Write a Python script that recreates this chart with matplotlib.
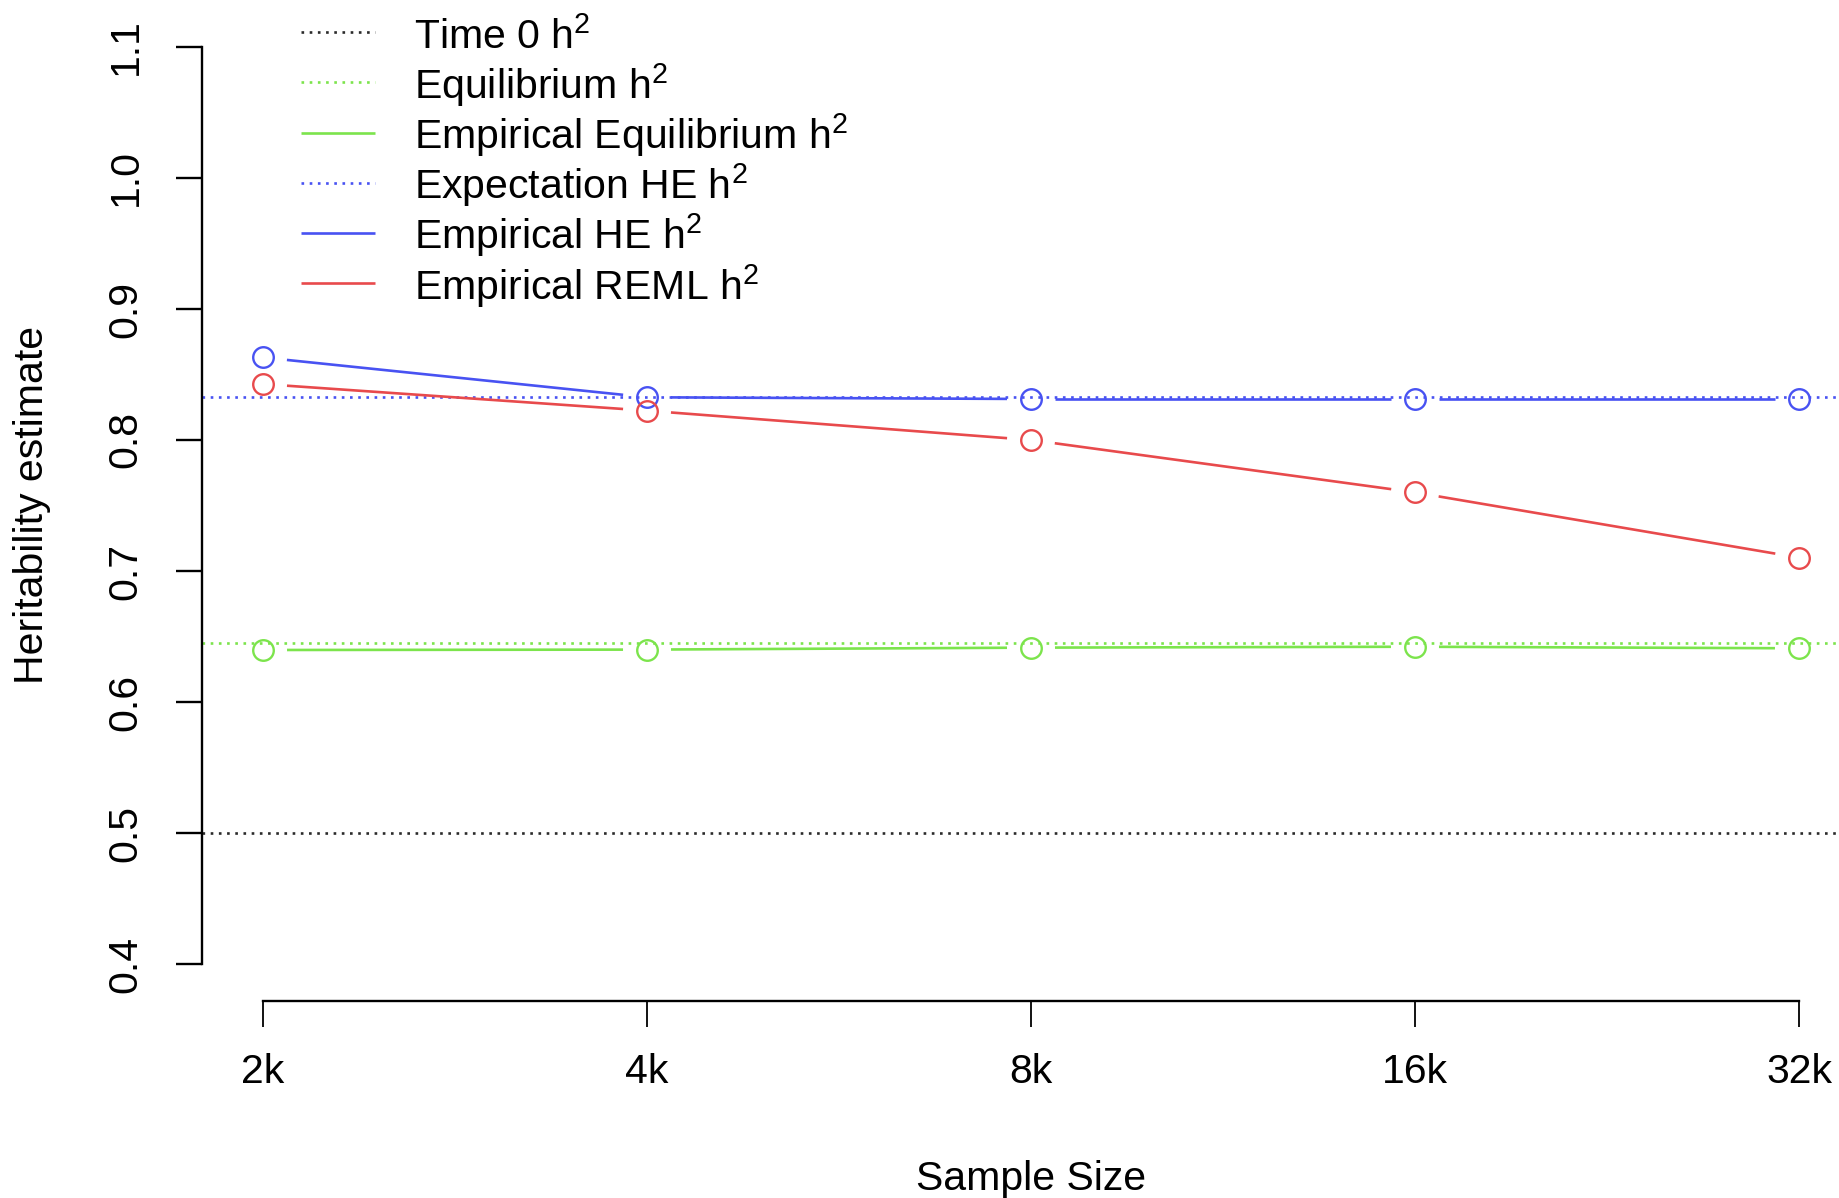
import numpy as np
import matplotlib
matplotlib.use("Agg")
import matplotlib.pyplot as plt
from matplotlib.lines import Line2D
from matplotlib.transforms import Affine2D

# ---- data -------------------------------------------------------------
sample_labels = ["2k", "4k", "8k", "16k", "32k"]
sample_sizes = [2000, 4000, 8000, 16000, 32000]

empirical_he = [0.863, 0.8326, 0.8313, 0.8313, 0.8313]
empirical_reml = [0.8427, 0.8224, 0.800, 0.760, 0.7102]
empirical_equilibrium = [0.6397, 0.640, 0.6415, 0.6422, 0.641]

time0_h2 = 0.5
equilibrium_h2 = 0.6453
expectation_he_h2 = 0.833

y_ticks = [0.4, 0.5, 0.6, 0.7, 0.8, 0.9, 1.0, 1.1]
y_tick_labels = ["0.4", "0.5", "0.6", "0.7", "0.8", "0.9", "1.0", "1.1"]

legend_labels = [r"Time 0 h$^{2}$", r"Equilibrium h$^{2}$",
                 r"Empirical Equilibrium h$^{2}$", r"Expectation HE h$^{2}$",
                 r"Empirical HE h$^{2}$", r"Empirical REML h$^{2}$"]

# ---- style ------------------------------------------------------------
BLACK = "#2a2a2a"
GREEN = "#7ce44c"
BLUE = "#4852f2"
RED = "#e84a4c"
legend_colors = [BLACK, GREEN, GREEN, BLUE, BLUE, RED]
legend_dotted = [True, True, False, True, False, False]

plt.rcParams["font.family"] = ["Liberation Sans", "DejaVu Sans"]
plt.rcParams["mathtext.fontset"] = "custom"
plt.rcParams["mathtext.rm"] = "Liberation Sans"
plt.rcParams["mathtext.it"] = "Liberation Sans:italic"
plt.rcParams["mathtext.bf"] = "Liberation Sans:bold"
plt.rcParams["lines.scale_dashes"] = False

FS = 29.5
LW = 1.9
DOTTED = (0, (1.9, 4.0))

W, H, DPI = 1839, 1198, 100
fig = plt.figure(figsize=(W / DPI, H / DPI), dpi=DPI)
px = Affine2D().scale(1 / W, -1 / H).translate(0, 1) + fig.transFigure

# plot region, R-style 4% padding around the data range
x = np.log2(np.array(sample_sizes) / 1000.0)
xlim = (x.min() - 0.04 * (x.max() - x.min()), x.max() + 0.04 * (x.max() - x.min()))
ylim = (0.4 - 0.028, 1.1 + 0.028)
left, right, top, bottom = 201.6, 1860.4, 10.3, 1000.7
ax = fig.add_axes([left / W, 1 - bottom / H, (right - left) / W, (bottom - top) / H])
ax.set_xlim(*xlim)
ax.set_ylim(*ylim)
ax.patch.set_visible(False)

# reference levels
ax.axhline(time0_h2, color=BLACK, lw=LW, ls=DOTTED)
ax.axhline(equilibrium_h2, color=GREEN, lw=LW, ls=DOTTED)
ax.axhline(expectation_he_h2, color=BLUE, lw=LW, ls=DOTTED)


def gapped_segments(xs, ys, gap_px=24.0):
    """Segments joining consecutive points, trimmed around each point."""
    pts = ax.transData.transform(np.column_stack([xs, ys]))
    inv = ax.transData.inverted()
    segs = []
    for p0, p1 in zip(pts[:-1], pts[1:]):
        d = p1 - p0
        L = np.hypot(*d)
        if L <= 2 * gap_px:
            continue
        u = d / L
        segs.append(inv.transform(np.array([p0 + u * gap_px, p1 - u * gap_px])))
    return segs


for ys, col in [(empirical_equilibrium, GREEN), (empirical_he, BLUE), (empirical_reml, RED)]:
    for seg in gapped_segments(x, ys):
        ax.plot(seg[:, 0], seg[:, 1], color=col, lw=LW, solid_capstyle="butt")
    ax.plot(x, ys, ls="none", marker="o", ms=14.8, mfc="none", mec=col, mew=1.7)

# axes
for s in ("top", "right"):
    ax.spines[s].set_visible(False)
for s in ("left", "bottom"):
    ax.spines[s].set_linewidth(1.7)
    ax.spines[s].set_color("black")
ax.spines["left"].set_bounds(0.4, 1.1)
ax.spines["bottom"].set_bounds(x.min(), x.max())

ax.set_xticks(x, sample_labels)
ax.set_yticks(y_ticks, y_tick_labels)
ax.tick_params(axis="x", length=18.7, width=1.3, pad=19, labelsize=FS, direction="out")
ax.tick_params(axis="y", length=18.7, width=1.7, pad=36, labelsize=FS, direction="out",
               labelrotation=90)
for lbl in ax.get_yticklabels():
    lbl.set_horizontalalignment("center")
    lbl.set_verticalalignment("center")

fig.text(1031, 1190, "Sample Size", transform=px, fontsize=FS, ha="center", va="baseline")
fig.text(43, 505, "Heritability estimate", transform=px, fontsize=FS, ha="center",
         va="baseline", rotation=90, rotation_mode="anchor")

# legend
for i, (lab, col, dot) in enumerate(zip(legend_labels, legend_colors, legend_dotted)):
    yl = 32.3 + 50.1 * i
    fig.add_artist(Line2D([301, 375], [yl, yl], transform=px, color=col, lw=LW,
                          ls=DOTTED if dot else "-", solid_capstyle="butt"))
    fig.text(414, yl + 16.3, lab, transform=px, fontsize=FS, ha="left", va="baseline")

fig.savefig("out.png", dpi=DPI)
